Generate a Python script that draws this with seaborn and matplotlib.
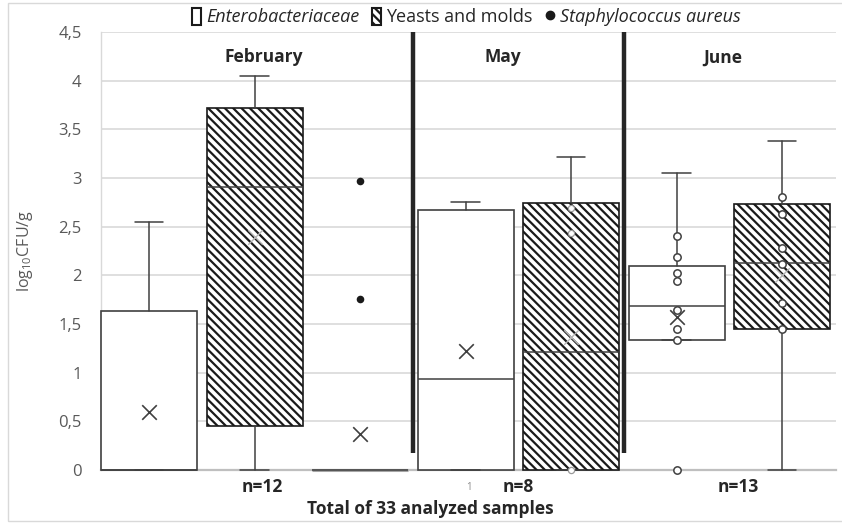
import numpy as np
import pandas as pd
import matplotlib
matplotlib.use("Agg")
import matplotlib.pyplot as plt
from matplotlib.patches import Patch, Rectangle
from matplotlib.lines import Line2D
import seaborn as sns

# Slots along the x axis (Feb: 3 series, May: 2, June: 2)
months = ["February", "February", "February", "May", "May", "June", "June"]
series = ["Enterobacteriaceae", "Yeasts and molds", "Staphylococcus aureus",
          "Enterobacteriaceae", "Yeasts and molds",
          "Enterobacteriaceae", "Yeasts and molds"]

# box statistics (log10 CFU/g)
box_q1 = [0.0, 0.45, 0.0, 0.0, 0.0, 1.34, 1.45]
box_med = [0.0, 2.91, 0.0, 0.93, 1.21, 1.68, 2.13]
box_q3 = [1.63, 3.72, 0.0, 2.67, 2.74, 2.10, 2.73]
whisk_lo = [0.0, 0.0, 0.0, 0.0, 0.0, 1.34, 0.0]
whisk_hi = [2.55, 4.05, 0.0, 2.75, 3.22, 3.05, 3.38]
box_mean = [0.60, 2.39, 0.37, 1.22, 1.37, 1.57, 2.00]

# individual points shown in the boxes (slot index, value)
pt_slot = [4, 4, 4, 5, 5, 5, 5, 5, 5, 5, 5, 6, 6, 6, 6, 6, 6]
pt_value = [2.69, 2.43, 0.0, 2.40, 2.19, 2.02, 1.94, 1.64, 1.45, 1.34, 0.0,
            2.80, 2.63, 2.28, 2.12, 1.72, 1.45]
# Staphylococcus aureus outliers in February
staph_slot = [2, 2]
staph_value = [2.97, 1.76]

month_names = ["February", "May", "June"]
n_labels = ["n=12", "n=8", "n=13"]
ytick_vals = [0, 0.5, 1, 1.5, 2, 2.5, 3, 3.5, 4, 4.5]
ytick_labels = ["0", "0,5", "1", "1,5", "2", "2,5", "3", "3,5", "4", "4,5"]

sns.set_theme(style="whitegrid")
plt.rcParams['font.family'] = ['Open Sans', 'DejaVu Sans']
plt.rcParams['mathtext.default'] = 'regular'
plt.rcParams['hatch.linewidth'] = 1.6

fig = plt.figure(figsize=(8.42, 5.24), dpi=100)
ax = fig.add_axes([101 / 842, 1 - 470 / 524, 735 / 842, 438 / 524])
ax.set_facecolor("white")

slots = np.arange(len(months))
stats = []
for i in slots:
    stats.append(dict(q1=box_q1[i], med=box_med[i], q3=box_q3[i],
                      whislo=whisk_lo[i], whishi=whisk_hi[i],
                      mean=box_mean[i], fliers=[]))

dark = "#404040"
bp = ax.bxp(stats, positions=slots, widths=0.91, capwidths=0.27,
            patch_artist=True, showmeans=False, showfliers=False,
            manage_ticks=False,
            boxprops=dict(facecolor="white", edgecolor=dark, linewidth=1.2),
            whiskerprops=dict(color=dark, linewidth=1.1),
            capprops=dict(color=dark, linewidth=1.1),
            medianprops=dict(color=dark, linewidth=1.1))
for key in bp:
    for art in bp[key]:
        art.set_clip_on(False)
        art.set_zorder(3)
for i, s in enumerate(series):
    if s == "Yeasts and molds":
        bp["boxes"][i].set_hatch("\\\\\\\\")
        bp["boxes"][i].set_edgecolor("#1a1a1a")
    if s == "Staphylococcus aureus":
        bp["boxes"][i].set_edgecolor("#a6a6a6")
        bp["boxes"][i].set_linewidth(2.2)
        for art in bp["whiskers"][2 * i:2 * i + 2] + bp["caps"][2 * i:2 * i + 2]:
            art.set_visible(False)

# means (x markers)
means_df = pd.DataFrame({"slot": slots, "mean": box_mean, "series": series})
plain = means_df[means_df["series"] != "Yeasts and molds"]
hatched = means_df[means_df["series"] == "Yeasts and molds"]
sns.scatterplot(data=plain, x="slot", y="mean", marker="x", s=110, color=dark,
                linewidth=1.2, ax=ax, zorder=5, legend=False)
sns.scatterplot(data=hatched, x="slot", y="mean", marker="x", s=110, color="#b5b5b5",
                linewidth=1.0, ax=ax, zorder=5, legend=False)

# inner points
pts = pd.DataFrame({"slot": pt_slot, "value": pt_value})
faint = pts["slot"] == 4
sns.scatterplot(data=pts[~faint], x="slot", y="value", marker="o", s=28,
                facecolor="white", edgecolor=dark, linewidth=1.1, ax=ax, zorder=6,
                legend=False, clip_on=False)
sns.scatterplot(data=pts[faint], x="slot", y="value", marker="o", s=20,
                facecolor="white", edgecolor="#9a9a9a", linewidth=0.9, ax=ax, zorder=6,
                legend=False, clip_on=False)
staph = pd.DataFrame({"slot": staph_slot, "value": staph_value})
sns.scatterplot(data=staph, x="slot", y="value", marker="o", s=30, color="#1a1a1a",
                linewidth=0, ax=ax, zorder=6, legend=False)

# month separators
for xs in [2.5, 4.5]:
    ax.plot([xs, xs], [0.17, 4.5], color="#262626", linewidth=3.2, zorder=4,
            solid_capstyle="butt", clip_on=False)

# month titles
for name, xm in zip(month_names, [1.09, 3.35, 5.44]):
    ax.text(xm, 4.24, name, ha="center", va="center", fontsize=12.5,
            fontweight="bold", color="#262626")

ax.set_xlim(-0.455, 6.51)
ax.set_ylim(0, 4.5)
ax.set_yticks(ytick_vals)
ax.set_yticklabels(ytick_labels)
ax.set_xticks([3.03])
ax.set_xticklabels(["1"])
ax.tick_params(axis="x", length=0, pad=9, labelsize=7, labelcolor="#8c8c8c")
ax.tick_params(axis="y", length=0, pad=14, labelsize=12, labelcolor="#595959")
ax.grid(axis="y", color="#d9d9d9", linewidth=1.2)
ax.grid(axis="x", visible=False)
ax.set_xlabel("")
ax.set_ylabel(r"log$_{10}$CFU/g", fontsize=11.5, color="#595959")
ax.yaxis.set_label_coords(-0.09, 0.5)
for side in ["top", "right"]:
    ax.spines[side].set_visible(False)
ax.spines["left"].set_color("#d9d9d9")
ax.spines["left"].set_linewidth(1.0)
ax.spines["bottom"].set_color("#bfbfbf")
ax.spines["bottom"].set_linewidth(1.6)

# n labels and bottom caption
for lab, xf in zip(n_labels, [262, 518, 738]):
    fig.text(xf / 842, 1 - 487 / 524, lab, ha="center", va="center",
             fontsize=12.5, fontweight="bold", color="#262626")
fig.text(430 / 842, 1 - 509 / 524, "Total of 33 analyzed samples", ha="center",
         va="center", fontsize=12.5, fontweight="bold", color="#262626")

# legend
handles = [Patch(facecolor="white", edgecolor="#1a1a1a", linewidth=1.5),
           Patch(facecolor="white", edgecolor="#1a1a1a", hatch="\\\\\\\\", linewidth=1.5),
           Line2D([], [], marker="o", linestyle="", color="#1a1a1a", markersize=6)]
leg = fig.legend(handles, ["Enterobacteriaceae", "Yeasts and molds", "Staphylococcus aureus"],
                 loc="center", bbox_to_anchor=(466 / 842, 1 - 17 / 524), ncol=3,
                 frameon=False, fontsize=13, handlelength=0.5, handleheight=1.1,
                 handletextpad=0.3, columnspacing=0.7, borderpad=0)
for t, style in zip(leg.get_texts(), ["italic", "normal", "italic"]):
    t.set_fontstyle(style)
    t.set_color("#262626")

# outer chart border
fig.patches.append(Rectangle((8 / 842, 3 / 524), 1.0, 518 / 524, transform=fig.transFigure,
                             fill=False, edgecolor="#d9d9d9", linewidth=1.0))

fig.savefig("out.png", dpi=100)
